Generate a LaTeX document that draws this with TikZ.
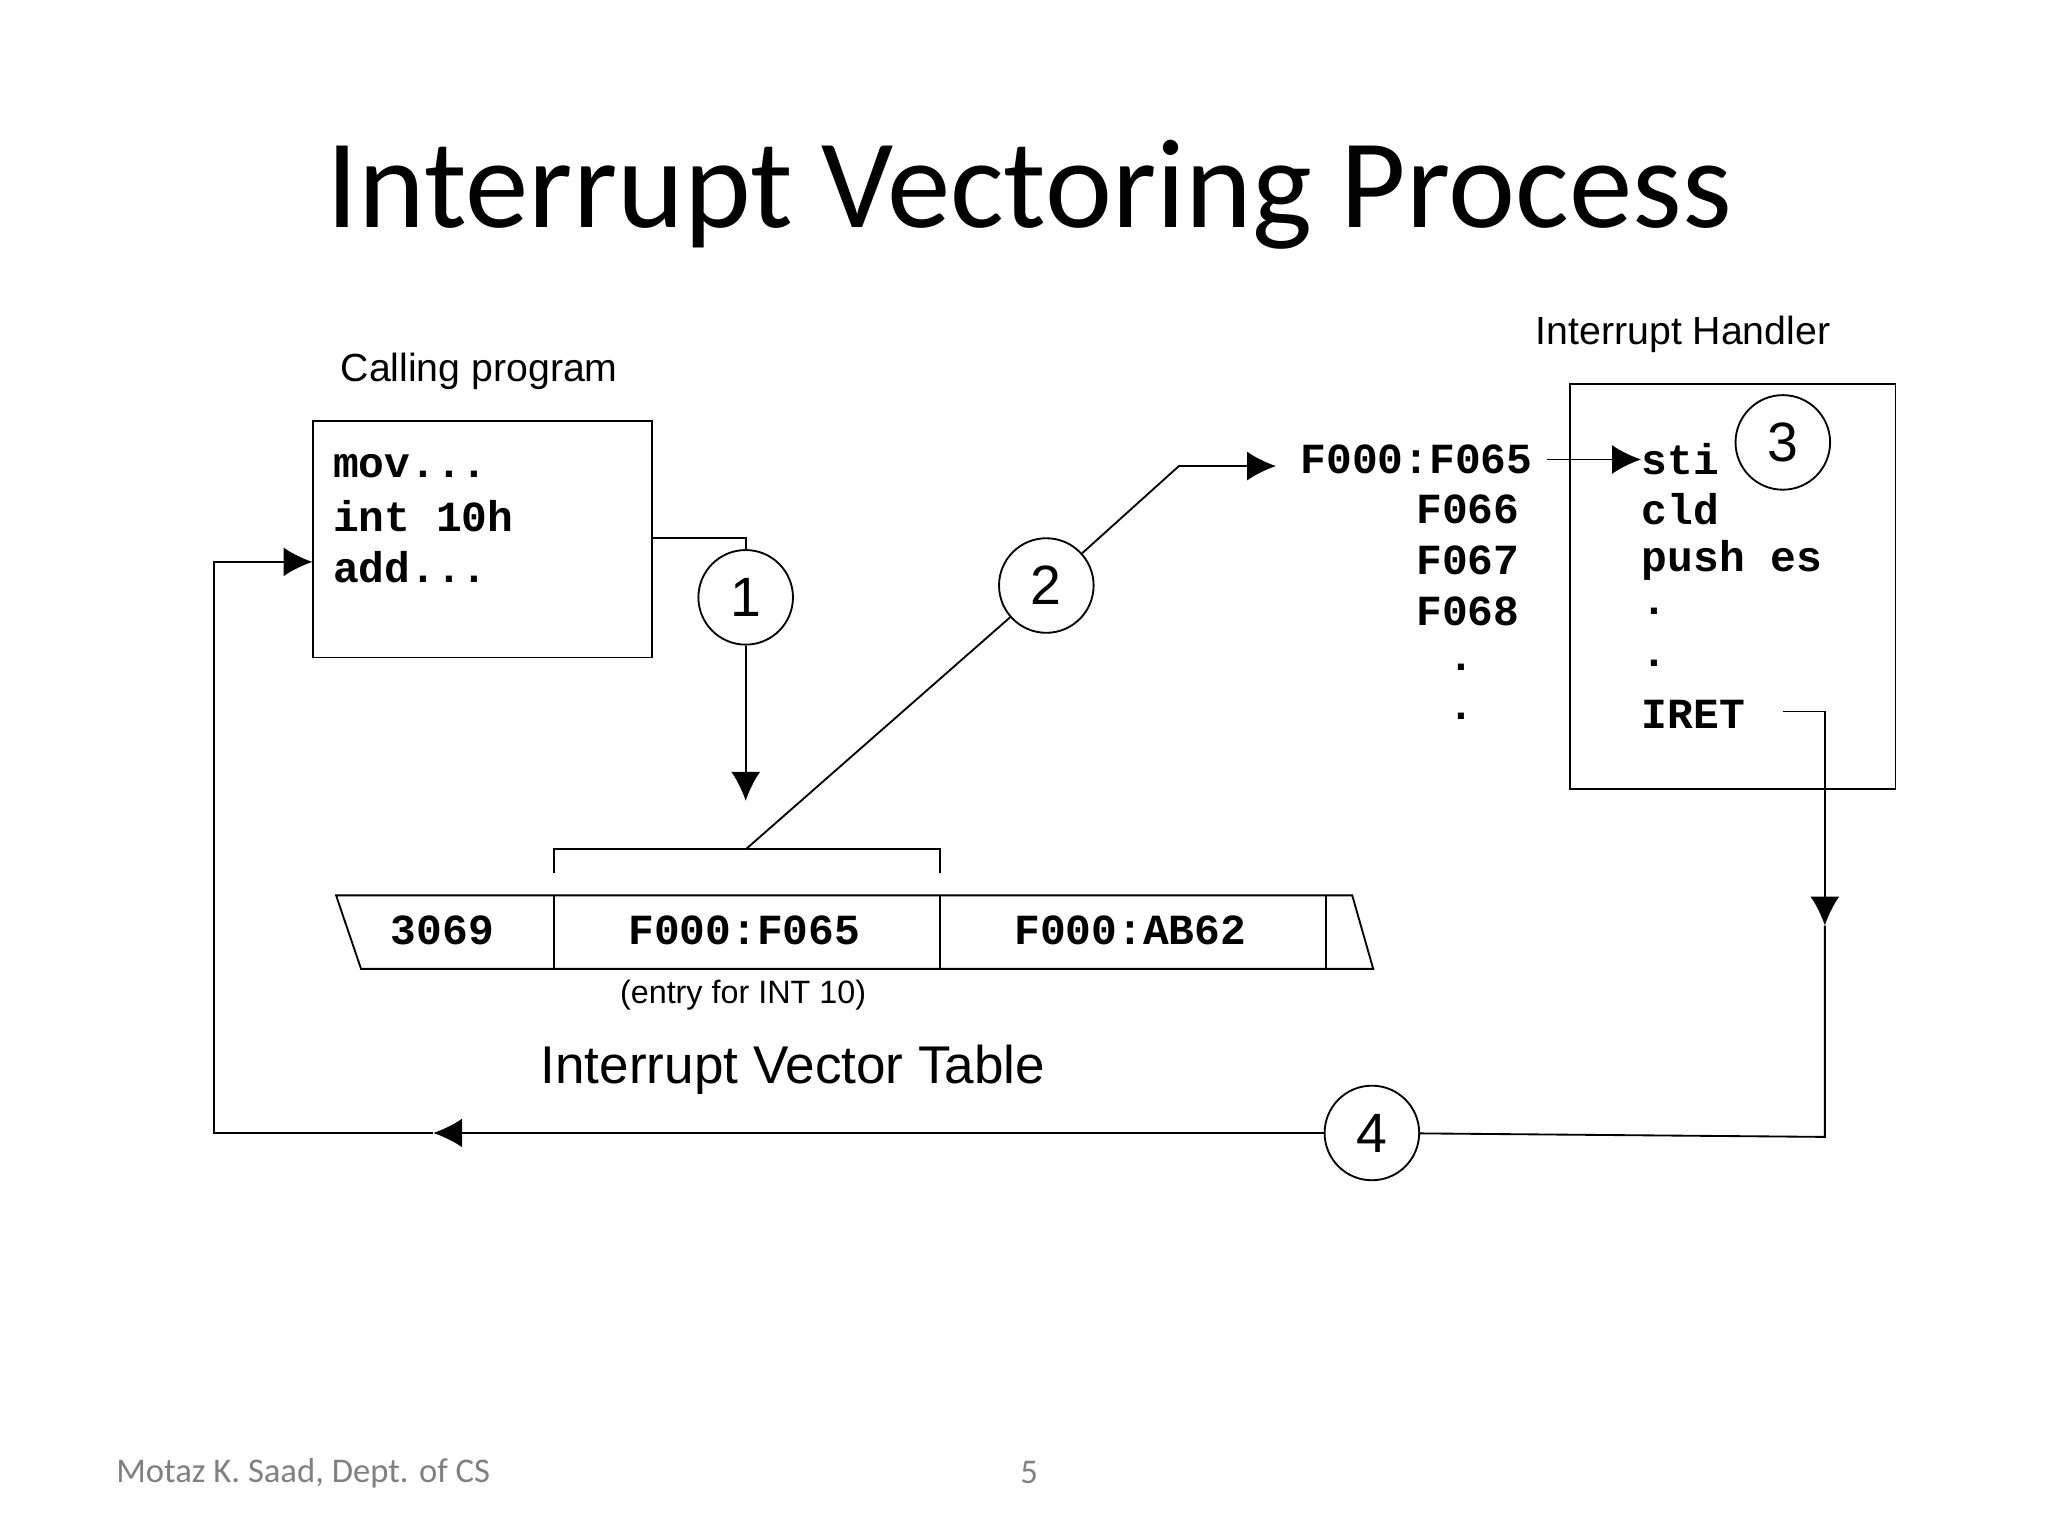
\documentclass[tikz,border=0pt]{standalone}
\usepackage{fontspec}
\setmainfont{Liberation Sans}
\newfontfamily\calib{Carlito}
\newfontfamily\cour{Liberation Mono}
\usetikzlibrary{positioning,arrows.meta}
\begin{document}
\begin{tikzpicture}[x=0.01cm, y=-0.01cm,
	code/.style={font=\cour\bfseries\fontsize{9.3}{11}\selectfont, anchor=west, inner sep=0pt},
	stepnum/.style={draw, circle, minimum size=0.72cm, inner sep=0pt, font=\fontsize{12}{14}\selectfont},
	tip/.style={-{Latex[length=2.2mm,width=2.2mm]}},
]
\useasboundingbox (0,0) rectangle (1560,1170);

% Title
\node (title) at (784,148) {\calib\fontsize{27.5}{32}\selectfont Interrupt Vectoring Process};

% Calling program
\node (calling_label) at (365,283) {\fontsize{8.5}{10}\selectfont Calling program};
\node [draw, minimum width=2.58cm, minimum height=1.8cm, anchor=north west] (calling) at (238,320) {};
\node [code] (mov) at (253,355) {mov...};
\node [code] (int10h) at (253,393) {int 10h};
\node [code] (add) at (253,432) {add...};

% Step 1
\node [stepnum] (step_1) at (568,455) {1};
\coordinate (c1) at (568,410);
\coordinate (vec_top) at (568,610);
\draw (calling.east |- c1) -- (c1) -- (step_1);
\draw [tip] (step_1) -- (vec_top);

% Vector table
\coordinate (br_mid) at (568,647);
\draw (422,665) -- (422,647) -- (716,647) -- (716,665);
\draw (256,682) -- (1030,682) -- (1046,738) -- (275,738) -- cycle;
\foreach \x in {422,716,1010} \draw (\x,682) -- (\x,738);
\node [code, anchor=center] (v0) at (337,709) {3069};
\node [code, anchor=center] (v1) at (567,709) {F000:F065};
\node [code, anchor=center] (v2) at (861,709) {F000:AB62};
\node (entry) at (566,758) {\fontsize{7}{9}\selectfont (entry for INT 10)};
\node (ivt) at (604,815) {\fontsize{11.5}{14}\selectfont Interrupt Vector Table};

% Step 2
\node [stepnum] (step_2) at (797,446) {2};
\coordinate (c2) at (898,355);
\coordinate (addr_in) at (972,355);
\draw (br_mid) -- (step_2);
\draw [tip] (step_2) -- (c2) -- (addr_in);

% Handler addresses
\node [code] (a0) at (990,350) {F000:F065};
\node [code, anchor=east] (a1) at (1158,388) {F066};
\node [code, anchor=east] (a2) at (1158,427) {F067};
\node [code, anchor=east] (a3) at (1158,466) {F068};
\node [code, anchor=center] (a4) at (1113,508) {.};
\node [code, anchor=center] (a5) at (1113,546) {.};

% Interrupt handler
\node (handler_label) at (1282,255) {\fontsize{8.5}{10}\selectfont Interrupt Handler};
\node [draw, minimum width=2.48cm, minimum height=3.08cm, anchor=north west] (handler) at (1195,292) {};
\node [code] (sti) at (1250,350) {sti};
\node [code] (cld) at (1250,388) {cld};
\node [code] (push) at (1250,427) {push es};
\node [code] (d1) at (1250,466) {.};
\node [code] (d2) at (1250,505) {.};
\node [code] (iret) at (1250,544) {IRET};
\node [stepnum] (step_3) at (1358,337) {3};
\draw [tip] (1178,350) -- (sti.west);

% Step 4
\node [stepnum] (step_4) at (1045,863) {4};
\coordinate (r0) at (1358,542);
\coordinate (r1) at (1390,542);
\coordinate (r2) at (1390,705);
\coordinate (r3) at (1390,866);
\coordinate (l1) at (330,863);
\coordinate (l2) at (163,863);
\coordinate (l3) at (163,428);
\coordinate (l4) at (238,428);
\draw [tip] (r0) -- (r1) -- (r2);
\draw (r2) -- (r3) -- (step_4);
\draw [tip] (step_4) -- (l1);
\draw [tip] (l1) -- (l2) -- (l3) -- (l4);

% Footer
\node [text=gray] (footer) at (231,1122) {\calib\fontsize{7.5}{9}\selectfont Motaz K. Saad, Dept. of CS};
\node [text=gray] (page) at (784,1122) {\calib\fontsize{7.5}{9}\selectfont 5};
\end{tikzpicture}
\end{document}
